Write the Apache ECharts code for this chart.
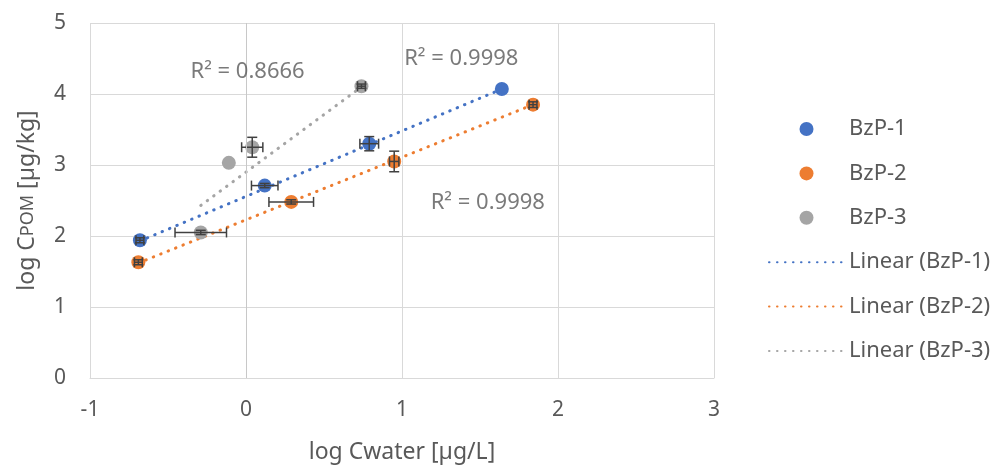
<!DOCTYPE html>
<html>
<head>
<meta charset="utf-8">
<script src="https://cdn.jsdelivr.net/npm/echarts@6/dist/echarts.min.js"></script>
<style>
html,body{margin:0;padding:0;background:#fff;}
#chart{width:997px;height:469px;}
</style>
</head>
<body>
<div id="chart"></div>
<script>
// ---- data ----
const seriesNames = ['BzP-1', 'BzP-2', 'BzP-3'];
const trendNames = ['Linear (BzP-1)', 'Linear (BzP-2)', 'Linear (BzP-3)'];

const bzp1X = [-0.68, 0.12, 0.79, 1.64];
const bzp1Y = [1.94, 2.71, 3.30, 4.07];
const bzp1XErr = [0.025, 0.085, 0.06, 0.0];
const bzp1YErr = [0.035, 0.03, 0.10, 0.0];

const bzp2X = [-0.69, 0.29, 0.95, 1.84];
const bzp2Y = [1.63, 2.48, 3.05, 3.85];
const bzp2XErr = [0.025, 0.143, 0.03, 0.025];
const bzp2YErr = [0.035, 0.03, 0.145, 0.04];

const bzp3X = [-0.29, -0.11, 0.04, 0.74];
const bzp3Y = [2.05, 3.03, 3.25, 4.11];
const bzp3XErr = [0.165, 0.0, 0.068, 0.025];
const bzp3YErr = [0.03, 0.0, 0.14, 0.03];

// trendline endpoints (x, y)
const trend1X = [-0.68, 1.64];
const trend1Y = [1.93, 4.07];
const trend2X = [-0.69, 1.84];
const trend2Y = [1.62, 3.85];
const trend3X = [-0.29, 0.74];
const trend3Y = [2.43, 4.10];

// R² annotations
const r2Texts = ['R² = 0.8666', 'R² = 0.9998', 'R² = 0.9998'];
const r2X = [0.01, 1.38, 1.55];
const r2Y = [4.31, 4.49, 2.47];

const xTicks = { min: -1, max: 3, interval: 1 };
const yTicks = { min: 0, max: 5, interval: 1 };

// ---- styling ----
const colors = ['#4472C4', '#ED7D31', '#A5A5A5'];
const textColor = '#595959';
const gridColor = '#D9D9D9';
const errColor = '#404040';
const FONT = 'Noto Sans';

const zip = (xs, ys) => xs.map((x, i) => [x, ys[i]]);
const allX = [bzp1X, bzp2X, bzp3X];
const allY = [bzp1Y, bzp2Y, bzp3Y];
const allXE = [bzp1XErr, bzp2XErr, bzp3XErr];
const allYE = [bzp1YErr, bzp2YErr, bzp3YErr];
const trendsX = [trend1X, trend2X, trend3X];
const trendsY = [trend1Y, trend2Y, trend3Y];

const series = [];
// trendlines first (under markers)
for (let i = 0; i < 3; i++) {
  series.push({
    name: trendNames[i],
    type: 'line',
    data: zip(trendsX[i], trendsY[i]),
    symbol: 'none',
    showSymbol: false,
    lineStyle: { color: colors[i], width: 3, type: [0.5, 7.5], cap: 'round' },
    itemStyle: { color: colors[i] },
    z: 2,
    silent: true,
    animation: false
  });
}
// scatter points
for (let i = 0; i < 3; i++) {
  series.push({
    name: seriesNames[i],
    type: 'scatter',
    data: zip(allX[i], allY[i]),
    symbol: 'circle',
    symbolSize: 14,
    itemStyle: { color: colors[i], opacity: 1 },
    z: 3,
    animation: false
  });
}
// error bars
for (let i = 0; i < 3; i++) {
  const errData = allX[i].map((x, k) => [x, allY[i][k], allXE[i][k], allYE[i][k]]);
  series.push({
    name: seriesNames[i] + ' err',
    type: 'custom',
    data: errData,
    z: 4,
    animation: false,
    silent: true,
    renderItem: function (params, api) {
      const x = api.value(0), y = api.value(1), ex = api.value(2), ey = api.value(3);
      const children = [];
      const cap = 5;
      const st = { stroke: errColor, lineWidth: 1.5, fill: null };
      if (ex > 0) {
        const a = api.coord([x - ex, y]);
        const b = api.coord([x + ex, y]);
        children.push({ type: 'line', shape: { x1: a[0], y1: a[1], x2: b[0], y2: b[1] }, style: st });
        children.push({ type: 'line', shape: { x1: a[0], y1: a[1] - cap, x2: a[0], y2: a[1] + cap }, style: st });
        children.push({ type: 'line', shape: { x1: b[0], y1: b[1] - cap, x2: b[0], y2: b[1] + cap }, style: st });
      }
      if (ey > 0) {
        const a = api.coord([x, y - ey]);
        const b = api.coord([x, y + ey]);
        children.push({ type: 'line', shape: { x1: a[0], y1: a[1], x2: b[0], y2: b[1] }, style: st });
        children.push({ type: 'line', shape: { x1: a[0] - cap, y1: a[1], x2: a[0] + cap, y2: a[1] }, style: st });
        children.push({ type: 'line', shape: { x1: b[0] - cap, y1: b[1], x2: b[0] + cap, y2: b[1] }, style: st });
      }
      return { type: 'group', children: children };
    }
  });
}
// x = 0 vertical axis line
series.push({
  name: 'axis0',
  type: 'line',
  data: [],
  silent: true,
  markLine: {
    silent: true,
    symbol: 'none',
    label: { show: false },
    lineStyle: { color: '#C8C8C8', width: 1, type: 'solid' },
    data: [{ xAxis: 0 }],
    animation: false
  },
  z: 1
});
// R² annotations
series.push({
  name: 'r2',
  type: 'scatter',
  data: r2X.map((x, i) => ({ value: [x, r2Y[i]], label: { formatter: r2Texts[i] } })),
  symbolSize: 0,
  silent: true,
  animation: false,
  label: {
    show: true,
    position: 'inside',
    color: textColor,
    fontFamily: FONT,
    fontSize: 22
  },
  z: 5
});

const lineLegendStyle = { opacity: 0 };

const option = {
  animation: false,
  backgroundColor: '#ffffff',
  textStyle: { fontFamily: FONT },
  grid: { left: 90, right: 283, top: 23, bottom: 91, containLabel: false },
  xAxis: {
    type: 'value',
    min: xTicks.min, max: xTicks.max, interval: xTicks.interval,
    axisLine: { show: true, onZero: false, lineStyle: { color: gridColor, width: 1 } },
    axisTick: { show: false },
    splitLine: { show: true, lineStyle: { color: gridColor, width: 1 } },
    axisLabel: { color: textColor, fontSize: 21, fontFamily: FONT, margin: 22 },
    name: 'log Cwater [µg/L]',
    nameLocation: 'middle',
    nameGap: 63,
    nameTextStyle: { color: textColor, fontSize: 23, fontFamily: FONT }
  },
  yAxis: {
    type: 'value',
    min: yTicks.min, max: yTicks.max, interval: yTicks.interval,
    axisLine: { show: false },
    axisTick: { show: false },
    splitLine: { show: true, lineStyle: { color: gridColor, width: 1 } },
    axisLabel: { color: textColor, fontSize: 21, fontFamily: FONT, margin: 24 },
    name: '{a|log C}{b|POM}{a| [µg/kg]}',
    nameLocation: 'middle',
    nameGap: 51,
    nameRotate: 90,
    nameTextStyle: {
      color: textColor, fontFamily: FONT,
      rich: {
        a: { fontSize: 23, color: textColor, fontFamily: FONT },
        b: { fontSize: 18, color: textColor, fontFamily: FONT }
      }
    }
  },
  legend: {
    orient: 'vertical',
    left: 763,
    top: 113,
    itemWidth: 75,
    itemHeight: 14,
    itemGap: 22.4,
    textStyle: { color: textColor, fontSize: 22, fontFamily: FONT },
    data: [
      { name: 'BzP-1', icon: 'circle' },
      { name: 'BzP-2', icon: 'circle' },
      { name: 'BzP-3', icon: 'circle' },
      { name: 'Linear (BzP-1)', itemStyle: lineLegendStyle },
      { name: 'Linear (BzP-2)', itemStyle: lineLegendStyle },
      { name: 'Linear (BzP-3)', itemStyle: lineLegendStyle }
    ],
    selectedMode: false
  },
  series: series
};

const chart = echarts.init(document.getElementById('chart'), null, { renderer: 'canvas' });
chart.setOption(option);
</script>
</body>
</html>
